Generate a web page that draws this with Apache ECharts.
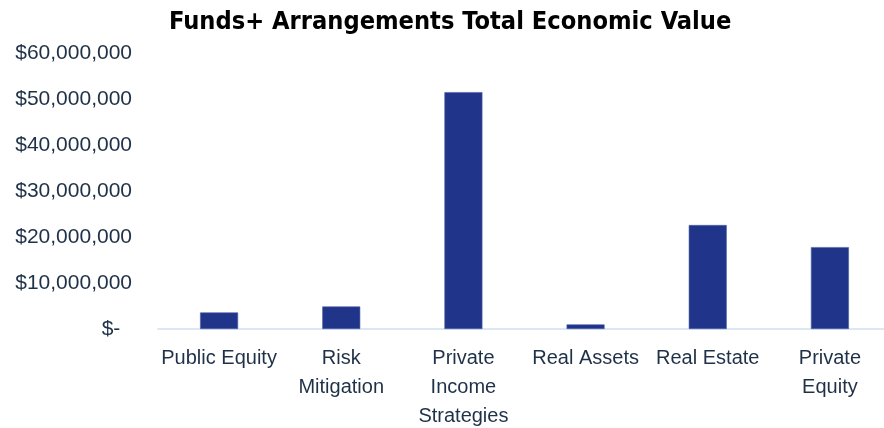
<!DOCTYPE html>
<html>
<head>
<meta charset="utf-8">
<script src="https://cdn.jsdelivr.net/npm/echarts@6/dist/echarts.min.js"></script>
<style>
  html, body { margin: 0; padding: 0; background: #ffffff; }
  #chart { width: 884px; height: 428px; }
</style>
</head>
<body>
<div id="chart"></div>
<script>
// Asset classes along the x axis
const categories = ['Public Equity', 'Risk Mitigation', 'Private Income Strategies', 'Real Assets', 'Real Estate', 'Private Equity'];
// Category labels as they wrap under the axis
const categoryLabels = ['Public Equity', 'Risk\nMitigation', 'Private\nIncome\nStrategies', 'Real Assets', 'Real Estate', 'Private\nEquity'];
// Total economic value per asset class (USD)
const totalEconomicValue = [3600000, 4900000, 51500000, 1000000, 22600000, 17800000];
// Value axis ticks
const yTicks = [0, 10000000, 20000000, 30000000, 40000000, 50000000, 60000000];

const chart = echarts.init(document.getElementById('chart'), null, { renderer: 'canvas' });

// Accounting-style money format: zero shows as a dash
function fmtMoney(v) {
  if (v === 0) return '$-  ';
  return '$' + v.toLocaleString('en-US');
}

chart.setOption({
  animation: false,
  backgroundColor: '#ffffff',
  title: {
    text: 'Funds+ Arrangements Total Economic Value',
    left: 164,
    top: 5,
    textStyle: {
      fontFamily: '"DejaVu Sans Condensed", "Liberation Sans", sans-serif',
      fontWeight: 'bold',
      fontSize: 25.2,
      color: '#000000'
    }
  },
  grid: { left: 158, right: -7, top: 53, bottom: 99, containLabel: false, outerBoundsMode: 'none' },
  xAxis: {
    type: 'category',
    data: categories,
    axisLine: { lineStyle: { color: '#d0dff0', width: 1.5 } },
    axisTick: { show: false },
    axisLabel: {
      interval: 0,
      margin: 15,
      color: '#1f3147',
      fontFamily: '"Liberation Sans", sans-serif',
      fontSize: 20,
      lineHeight: 29,
      formatter: (v, i) => categoryLabels[i]
    }
  },
  yAxis: {
    type: 'value',
    min: yTicks[0],
    max: yTicks[yTicks.length - 1],
    interval: 10000000,
    splitLine: { show: false },
    axisLine: { show: false },
    axisTick: { show: false },
    axisLabel: {
      margin: 26,
      color: '#1f3147',
      fontFamily: '"Liberation Sans", Arial, sans-serif',
      fontSize: 21,
      formatter: fmtMoney
    }
  },
  series: [{
    type: 'bar',
    data: totalEconomicValue,
    barWidth: 38,
    itemStyle: { color: '#203589', borderColor: '#4d62a8', borderWidth: 0.6 }
  }]
});
</script>
</body>
</html>
